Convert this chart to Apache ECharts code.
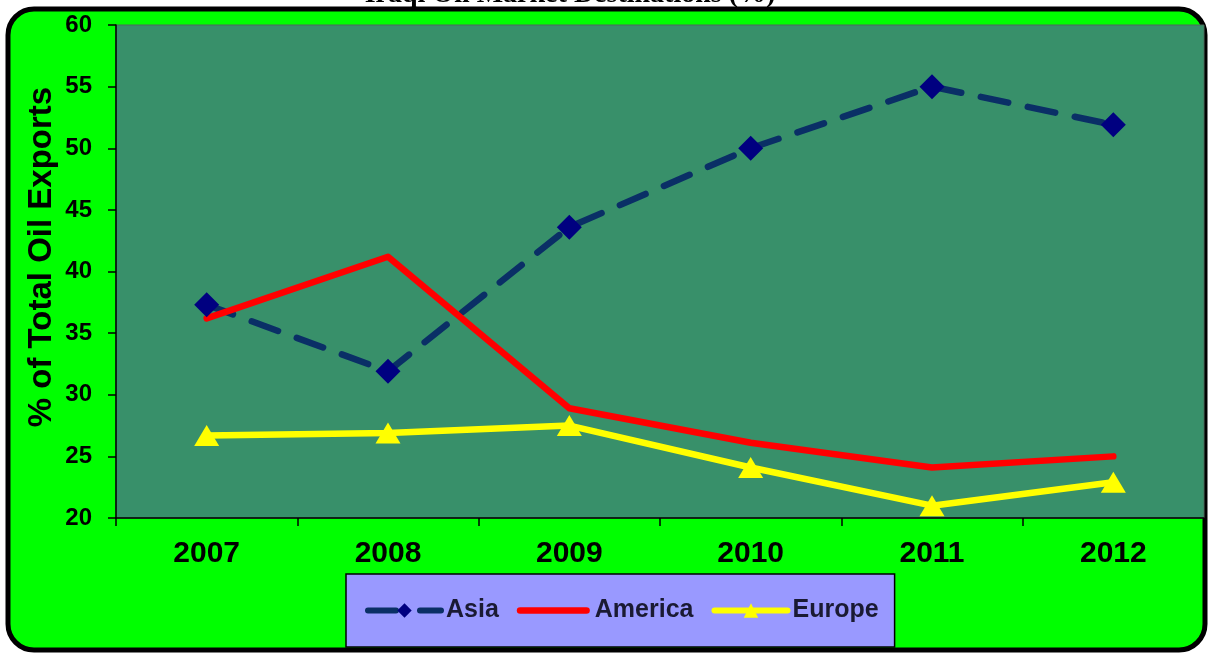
<!DOCTYPE html>
<html><head><meta charset="utf-8">
<script src="https://cdn.jsdelivr.net/npm/echarts@6/dist/echarts.min.js"></script>
<style>html,body{margin:0;padding:0;background:#fff;}#c{width:1211px;height:655px;}</style>
</head><body><div id="c"></div>
<script>
const titleText = 'Iraqi Oil Market Destinations (%)';
const yAxisName = '% of Total Oil Exports';
const years = ['2007','2008','2009','2010','2011','2012'];
const asia = [37.3, 31.9, 43.6, 50.0, 55.0, 51.9];
const america = [36.2, 41.2, 28.9, 26.1, 24.1, 25.0];
const europe = [26.7, 26.9, 27.5, 24.1, 21.0, 22.9];

const SANS = '"Liberation Sans", Arial, sans-serif';
const chart = echarts.init(document.getElementById('c'), null, {renderer:'canvas'});
chart.setOption({
  backgroundColor: '#ffffff',
  animation: false,
  graphic: [
    {type:'rect', z:-100, shape:{x:8,y:9,width:1197,height:641,r:26},
     style:{fill:'#00ff00', stroke:'#000', lineWidth:5}},
    {type:'text', z:100, x:570, y:9,
     style:{text:titleText, font:'bold 28px "Liberation Serif", "Times New Roman", serif',
            fill:'#000', align:'center', verticalAlign:'bottom'}},
    {type:'text', z:100, x:42, y:257, rotation:Math.PI/2,
     style:{text:yAxisName, font:'bold 33px ' + SANS,
            fill:'#000', align:'center', verticalAlign:'middle'}}
  ],
  grid: {left:116, right:7, top:25, bottom:137, show:true,
         backgroundColor:'#38906a', borderColor:'#4a6b5a', borderWidth:1},
  legend: {
    left:346, top:574,
    backgroundColor:'#9999ff', borderColor:'#000', borderWidth:1.5, borderRadius:0,
    padding:[24,16,24,19], itemGap:18, itemWidth:73, itemHeight:18,
    textStyle:{fontFamily:SANS, fontSize:25, fontWeight:'bold', color:'#1a1a33'},
    data:[
      {name:'Asia', lineStyle:{width:6, type:[28,24], cap:'round', color:'#0a2f66'}},
      {name:'America', icon:'path://M4.5,0 L95.5,0 A4.5,4.5 0 0 1 95.5,9 L4.5,9 A4.5,4.5 0 0 1 4.5,0 Z'},
      {name:'Europe', lineStyle:{width:6, cap:'round'}}
    ]
  },
  xAxis: {
    type:'category', data:years, boundaryGap:true,
    axisLine:{lineStyle:{color:'#000', width:1.5}},
    axisTick:{show:true, length:8, lineStyle:{color:'#000', width:1.5}},
    axisLabel:{fontFamily:SANS, fontSize:30, fontWeight:'bold', color:'#000', margin:21}
  },
  yAxis: {
    type:'value', min:20, max:60, interval:5,
    axisLine:{show:true, lineStyle:{color:'#000', width:1.5}},
    axisTick:{show:true, length:8, lineStyle:{color:'#000', width:1.5}},
    splitLine:{show:false},
    axisLabel:{fontFamily:SANS, fontSize:24, fontWeight:'bold', color:'#000', margin:24}
  },
  series: [
    {name:'Asia', type:'line', data:asia, symbol:'diamond', symbolSize:25,
     itemStyle:{color:'#000080'},
     lineStyle:{color:'#0a2f66', width:6.5, type:[28,20], cap:'round'}},
    {name:'America', type:'line', data:america, symbol:'none', showSymbol:false,
     itemStyle:{color:'#ff0000'},
     lineStyle:{color:'#ff0000', width:6.5, cap:'round', join:'round'}},
    {name:'Europe', type:'line', data:europe, symbol:'triangle', symbolSize:[25,21],
     itemStyle:{color:'#ffff00'},
     lineStyle:{color:'#ffff00', width:6.5, cap:'round'}}
  ]
});
</script></body></html>
